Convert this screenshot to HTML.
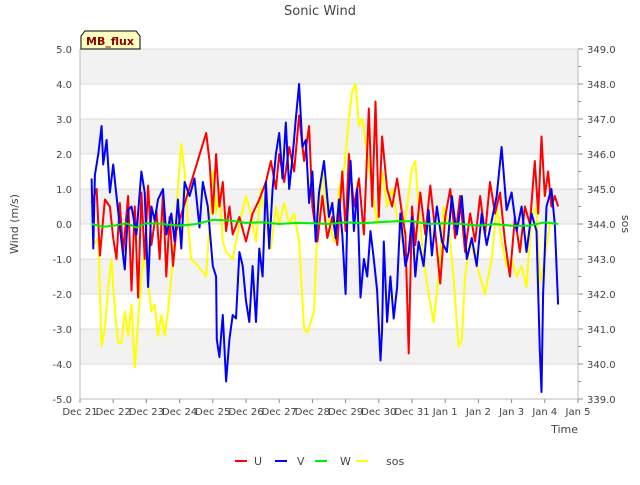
<!DOCTYPE html>
<html><head><meta charset="utf-8"><style>
body{margin:0;background:#fff;font-family:"Liberation Sans","DejaVu Sans",sans-serif}
svg text{font-family:"DejaVu Sans","Liberation Sans",sans-serif}
</style></head><body>
<svg id="c" width="640" height="480" xmlns="http://www.w3.org/2000/svg"></svg>
<script>
const xLabels=["Dec 21","Dec 22","Dec 23","Dec 24","Dec 25","Dec 26","Dec 27","Dec 28","Dec 29","Dec 30","Dec 31","Jan 1","Jan 2","Jan 3","Jan 4","Jan 5"];
const yTicks=[-5,-4,-3,-2,-1,0,1,2,3,4,5];
const sosTicks=[339,340,341,342,343,344,345,346,347,348,349];
const uT=[0.35,0.5,0.6,0.75,0.9,1.0,1.1,1.2,1.3,1.45,1.55,1.65,1.75,1.85,1.95,2.05,2.15,2.3,2.4,2.5,2.6,2.7,2.8,2.9,3.8,3.9,4.0,4.1,4.2,4.3,4.4,4.5,4.6,4.8,5.0,5.2,5.4,5.6,5.75,5.9,6.0,6.15,6.3,6.45,6.6,6.75,6.9,7.0,7.15,7.3,7.45,7.6,7.75,7.9,8.0,8.1,8.25,8.4,8.55,8.7,8.8,8.9,9.0,9.1,9.25,9.4,9.55,9.7,9.8,9.9,10.0,10.1,10.25,10.4,10.55,10.7,10.85,11.0,11.15,11.3,11.45,11.6,11.75,11.9,12.05,12.2,12.35,12.5,12.65,12.8,12.95,13.1,13.25,13.4,13.55,13.7,13.8,13.9,14.0,14.1,14.2,14.3,14.4];
const uV=[0.6,1.0,-0.9,0.7,0.5,-0.4,-1.0,0.6,-0.8,0.8,-1.9,0.5,-2.1,0.9,-1.0,1.1,-0.6,0.4,-1.0,0.9,-1.5,0.2,-1.2,-0.2,2.6,1.8,0.3,2.0,0.5,1.2,-0.2,0.5,-0.3,0.2,-0.5,0.3,0.7,1.2,1.8,1.0,2.0,1.2,2.2,1.5,3.1,1.8,2.8,0.5,-0.5,0.8,-0.4,0.2,-0.6,1.5,-0.2,2.0,0.5,1.3,-0.3,3.3,0.5,3.5,0.2,2.5,1.0,0.5,1.3,0.3,-0.3,-3.7,0.5,-0.6,0.9,-0.3,1.1,-0.2,-1.7,0.2,1.0,-0.4,0.8,-0.8,0.3,-0.5,0.8,-0.3,1.2,0.3,0.9,-0.5,-1.5,0.2,-0.8,0.5,0.0,1.8,0.3,2.5,0.8,1.5,0.5,0.8,0.5];
const vT=[0.35,0.4,0.45,0.55,0.65,0.7,0.8,0.9,1.0,1.1,1.25,1.35,1.45,1.55,1.7,1.85,1.95,2.05,2.15,2.25,2.35,2.5,2.6,2.75,2.85,2.95,3.05,3.15,3.3,3.45,3.6,3.7,3.85,4.0,4.1,4.12,4.2,4.3,4.4,4.5,4.6,4.7,4.8,4.9,5.0,5.1,5.2,5.3,5.4,5.5,5.6,5.7,5.8,5.9,6.0,6.1,6.2,6.3,6.4,6.5,6.6,6.7,6.8,6.9,7.0,7.1,7.2,7.35,7.5,7.6,7.7,7.8,7.9,8.0,8.05,8.15,8.25,8.35,8.45,8.55,8.65,8.75,8.85,8.95,9.05,9.1,9.15,9.25,9.35,9.45,9.55,9.65,9.8,9.9,10.0,10.1,10.2,10.35,10.5,10.6,10.75,10.9,11.05,11.2,11.35,11.5,11.65,11.8,11.95,12.1,12.25,12.4,12.55,12.7,12.85,13.0,13.15,13.3,13.45,13.6,13.75,13.85,13.9,13.95,14.05,14.2,14.3,14.4];
const vV=[1.3,-0.7,1.4,2.0,2.8,1.7,2.4,0.9,1.7,0.8,-0.5,-1.3,0.4,0.5,-0.3,1.5,0.9,-1.8,0.5,0.1,0.7,1.0,-0.3,0.3,-0.5,0.7,-0.7,1.2,0.8,1.3,-0.1,1.2,0.5,-1.2,-1.5,-3.3,-3.8,-2.6,-4.5,-3.3,-2.6,-2.7,-0.8,-1.2,-2.2,-2.8,-1.2,-2.8,-0.7,-1.5,1.2,-0.7,1.0,2.0,2.6,1.3,2.9,1.0,1.9,3.0,4.0,2.2,2.4,0.6,1.5,-0.5,0.9,1.8,0.2,0.6,-0.4,0.7,-0.3,-2.0,0.2,1.8,-0.2,1.0,-2.1,-1.0,-1.5,-0.2,-1.0,-1.9,-3.9,-3.0,-0.5,-2.8,-1.5,-2.7,-1.8,0.3,-1.2,-0.8,0.2,-1.5,-0.5,-1.2,0.4,-0.9,0.5,-0.5,-0.8,0.8,-0.3,0.8,-1.0,-0.4,-1.2,0.3,-0.6,0.1,0.8,2.2,0.4,0.9,-0.2,0.5,-0.8,0.3,-0.2,-3.6,-4.8,-2.0,0.5,1.0,0.0,-2.3];
const wT=[0.35,0.7,1.0,1.4,1.7,2.0,2.5,3.0,3.5,4.0,4.5,5.0,5.5,6.0,6.5,7.0,7.5,8.0,8.5,9.0,9.5,10.0,10.5,11.0,11.5,12.0,12.5,13.0,13.5,14.0,14.4];
const wV=[0.0,-0.08,-0.05,0.02,-0.1,0.02,0.0,-0.05,0.0,0.12,0.1,0.03,0.05,0.0,0.03,0.02,0.0,0.05,0.02,0.05,0.08,0.08,0.0,0.02,0.0,-0.05,0.0,-0.05,-0.05,0.05,0.0];
const sT=[0.4,0.55,0.65,0.75,0.85,0.95,1.05,1.15,1.25,1.35,1.45,1.55,1.65,1.75,1.85,1.95,2.05,2.15,2.25,2.35,2.45,2.55,2.65,2.75,2.85,2.95,3.05,3.15,3.25,3.35,3.55,3.8,4.0,4.1,4.2,4.3,4.4,4.6,4.8,5.0,5.15,5.3,5.45,5.6,5.75,5.9,6.0,6.15,6.3,6.45,6.6,6.75,6.85,6.95,7.05,7.15,7.3,7.5,7.65,7.8,7.95,8.1,8.2,8.3,8.4,8.5,8.65,8.8,8.95,9.1,9.25,9.4,9.55,9.7,9.85,10.0,10.1,10.2,10.35,10.5,10.65,10.8,10.95,11.1,11.25,11.4,11.5,11.6,11.75,11.9,12.05,12.2,12.4,12.55,12.7,12.85,13.0,13.15,13.3,13.45,13.6,13.75,13.85,14.0,14.15,14.3];
const sV=[343.4,343.6,340.5,341.0,342.2,343.0,341.5,340.6,340.6,341.5,340.8,341.7,339.9,341.2,342.5,343.2,342.3,341.5,341.7,340.8,341.4,340.8,341.5,342.5,343.5,345.0,346.3,345.5,344.0,343.0,342.8,342.5,345.5,344.3,345.0,343.5,343.2,343.0,344.0,344.8,344.3,343.5,345.0,344.0,343.3,344.5,344.0,344.6,344.0,344.3,343.5,341.0,340.9,341.2,341.5,344.0,345.5,344.0,343.5,345.0,345.5,347.0,347.8,348.0,346.8,347.0,346.0,345.0,344.0,345.5,344.5,345.0,344.2,343.5,344.5,345.6,345.8,344.5,343.0,342.0,341.2,342.5,344.5,344.0,342.5,340.5,340.7,342.5,343.5,343.0,342.5,342.0,343.0,344.5,343.5,342.8,343.0,342.5,342.8,342.2,344.2,344.5,342.3,343.0,344.0,344.0];

const svg=document.getElementById('c');const NS='http://www.w3.org/2000/svg';
const L=80,R=578,T=49,B=399;
const xs=d=>L+d*(R-L)/15;
const ys=v=>B-(v+5)*(B-T)/10;
const ys2=s=>B-(s-339)*(B-T)/10;
function el(tag,a,txt){const e=document.createElementNS(NS,tag);for(const k in a)e.setAttribute(k,a[k]);if(txt!=null)e.textContent=txt;svg.appendChild(e);return e;}
let e;
e=el('rect',{x:L,y:T,width:R-L,height:B-T,fill:'#fff'});


[-4,-2,0,2,4].forEach(v=>{
 e=el('rect',{x:L,y:ys(v+1),width:R-L,height:ys(v)-ys(v+1),fill:'#f2f2f2'});
 
 
});
yTicks.forEach(v=>{
 e=el('line',{x1:L,x2:R,y1:ys(v),y2:ys(v),stroke:'#dcdcdc','stroke-width':1});
 
 
 e=el('text',{x:72,y:ys(v)+4,'text-anchor':'end','font-size':10,fill:'#444'},v.toFixed(1));
 
 
});
sosTicks.forEach(s=>{
 e=el('text',{x:587,y:ys2(s)+4,'font-size':10,fill:'#444'},s.toFixed(1));
 
 
 el('line',{x1:R,x2:R+5,y1:ys2(s),y2:ys2(s),stroke:'#888'});
 if(s<349)el('line',{x1:R,x2:R+3,y1:ys2(s+0.5),y2:ys2(s+0.5),stroke:'#888'});
});
xLabels.forEach((lab,i)=>{
 el('line',{x1:xs(i),x2:xs(i),y1:B,y2:B+4,stroke:'#888'});
 e=el('text',{x:xs(i),y:B+16,'text-anchor':'middle','font-size':10,fill:'#444'},lab);
 
 
});
el('line',{x1:L,x2:L,y1:T,y2:B,stroke:'#bbb'});
el('line',{x1:L,x2:R,y1:B,y2:B,stroke:'#bbb'});
el('line',{x1:R,x2:R,y1:T,y2:B,stroke:'#bbb'});
function series(t,v,f,col,name){
 const p=t.map((d,i)=>xs(d).toFixed(1)+','+f(v[i]).toFixed(1)).join(' ');
 const s=el('polyline',{points:p,fill:'none',stroke:col,'stroke-width':2,'stroke-linejoin':'round'});
 
 
}
series(sT,sV,ys2,'#ffff00','sos-line');
series(uT,uV,ys,'#ff0000','u-line');
series(vT,vV,ys,'#0000ff','v-line');
series(wT,wV,ys,'#00ee00','w-line');
e=el('text',{x:320,y:15,'text-anchor':'middle','font-size':13,fill:'#444'},'Sonic Wind');


e=el('text',{x:0,y:0,'text-anchor':'middle','font-size':11,fill:'#444',transform:'translate(18,224) rotate(-90)'},'Wind (m/s)');


e=el('text',{x:0,y:0,'text-anchor':'middle','font-size':11,fill:'#444',transform:'translate(622,224) rotate(90)'},'sos');


e=el('text',{x:578,y:433,'text-anchor':'end','font-size':11,fill:'#444'},'Time');


e=el('path',{d:'M81,49 L81,36 L85,31 L136,31 L140,36 L140,49 Z',fill:'#ffffc0',stroke:'#000','stroke-width':1});


e=el('text',{x:110,y:45,'text-anchor':'middle','font-size':11,'font-weight':'bold',fill:'#8b0000'},'MB_flux');


[['U','#ff0000',235,254],['V','#0000ff',275,297],['W','#00ee00',315,340],['sos','#ffff00',356,386]].forEach(([n,c,x,tx])=>{
 e=el('line',{x1:x,x2:x+12,y1:461,y2:461,stroke:c,'stroke-width':2});
 
 
 e=el('text',{x:tx,y:465,'font-size':11,fill:'#444'},n);
 
 
});
</script>
</body></html>
